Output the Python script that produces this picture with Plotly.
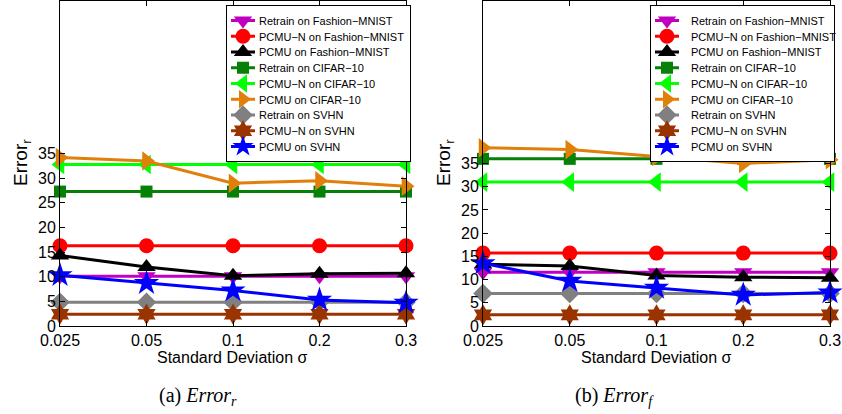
import plotly.graph_objects as go

sigma = ["0.025", "0.05", "0.1", "0.2", "0.3"]
ytick_vals = [0, 5, 10, 15, 20, 25, 30, 35]

names = [
    "Retrain on Fashion\u2212MNIST",
    "PCMU\u2212N on Fashion\u2212MNIST",
    "PCMU on Fashion\u2212MNIST",
    "Retrain on CIFAR\u221210",
    "PCMU\u2212N on CIFAR\u221210",
    "PCMU on CIFAR\u221210",
    "Retrain on SVHN",
    "PCMU\u2212N on SVHN",
    "PCMU on SVHN",
]

# (a) Error_r
err_r_retrain_fm = [10.1, 10.1, 10.1, 10.1, 10.1]
err_r_pcmun_fm = [16.3, 16.3, 16.3, 16.3, 16.3]
err_r_pcmu_fm = [14.3, 12.0, 10.2, 10.6, 10.7]
err_r_retrain_cifar = [27.3, 27.3, 27.3, 27.3, 27.3]
err_r_pcmun_cifar = [32.8, 32.8, 32.8, 32.8, 32.8]
err_r_pcmu_cifar = [34.2, 33.5, 29.0, 29.5, 28.4]
err_r_retrain_svhn = [4.8, 4.8, 4.8, 4.8, 4.8]
err_r_pcmun_svhn = [2.4, 2.4, 2.4, 2.4, 2.4]
err_r_pcmu_svhn = [10.3, 8.7, 7.2, 5.3, 4.7]

# (b) Error_f
err_f_retrain_fm = [11.6, 11.6, 11.6, 11.6, 11.6]
err_f_pcmun_fm = [15.7, 15.7, 15.7, 15.7, 15.7]
err_f_pcmu_fm = [13.3, 12.9, 10.9, 10.5, 10.4]
err_f_retrain_cifar = [36.0, 36.0, 36.0, 36.0, 36.0]
err_f_pcmun_cifar = [31.0, 31.0, 31.0, 31.0, 31.0]
err_f_pcmu_cifar = [38.4, 38.0, 36.5, 35.0, 35.8]
err_f_retrain_svhn = [7.0, 7.0, 7.0, 7.0, 7.0]
err_f_pcmun_svhn = [2.4, 2.4, 2.4, 2.4, 2.4]
err_f_pcmu_svhn = [13.5, 9.7, 8.2, 6.7, 7.2]

series_r = [err_r_retrain_fm, err_r_pcmun_fm, err_r_pcmu_fm, err_r_retrain_cifar,
            err_r_pcmun_cifar, err_r_pcmu_cifar, err_r_retrain_svhn, err_r_pcmun_svhn,
            err_r_pcmu_svhn]
series_f = [err_f_retrain_fm, err_f_pcmun_fm, err_f_pcmu_fm, err_f_retrain_cifar,
            err_f_pcmun_cifar, err_f_pcmu_cifar, err_f_retrain_svhn, err_f_pcmun_svhn,
            err_f_pcmu_svhn]

colors = ["#C000C0", "#FF0000", "#000000", "#078007", "#00FF00", "#E0800A",
          "#808080", "#993300", "#0000FF"]
symbols = ["triangle-down", "circle", "triangle-up", "square", "triangle-left",
           "triangle-right", "diamond", "hexagram", "star"]
sizes = [16, 15, 16, 12, 17, 17, 15, 16, 19]

W, H = 842, 414
fig = go.Figure()

for panel, (series, xa, ya, lg) in enumerate([
        (series_r, "x", "y", "legend"), (series_f, "x2", "y2", "legend2")]):
    for i, vals in enumerate(series):
        fig.add_trace(go.Scatter(
            x=sigma, y=vals, name=names[i], mode="lines+markers",
            line=dict(color=colors[i], width=3),
            marker=dict(symbol=symbols[i], size=sizes[i], color=colors[i],
                        line=dict(width=0)),
            xaxis=xa, yaxis=ya, legend=lg, cliponaxis=False,
        ))

ydom = [1 - 326 / H, 1 - 1 / H]
axis_common = dict(showline=True, linecolor="black", linewidth=1, mirror="allticks",
                   ticks="inside", ticklen=5, tickcolor="black", showgrid=False,
                   zeroline=False, automargin=False,
                   tickfont=dict(family="Liberation Sans, Arial", size=16, color="black"))

legend_common = dict(bgcolor="white", bordercolor="black", borderwidth=1,
                     font=dict(family="Liberation Sans, Arial", size=11, color="black"),
                     xanchor="left", yanchor="top", traceorder="normal",
                     itemsizing="trace")

fig.update_layout(
    width=W, height=H, margin=dict(l=0, r=0, t=0, b=0, pad=0, autoexpand=False),
    paper_bgcolor="white", plot_bgcolor="white", showlegend=True,
    xaxis=dict(domain=[60 / W, 406 / W], anchor="y", type="category",
               range=[0, 4], **axis_common),
    yaxis=dict(domain=ydom, anchor="x", range=[0, 66], tickvals=ytick_vals, **axis_common),
    xaxis2=dict(domain=[483 / W, 830 / W], anchor="y2", type="category",
                range=[0, 4], **axis_common),
    yaxis2=dict(domain=ydom, anchor="x2", range=[0, 70], tickvals=ytick_vals, **axis_common),
    legend=dict(x=226 / W, y=1 - 5 / H, **legend_common),
    legend2=dict(x=650 / W, y=1 - 5 / H, **legend_common),
)

annots = []
for cx, cap_x, cap in [(233, 198, "(a) <i>Error</i><sub><i>r</i></sub>"),
                       (656, 614, "(b) <i>Error</i><sub><i>f</i></sub>")]:
    annots.append(dict(text="Standard Deviation \u03c3", x=cx / W, y=1 - 357 / H,
                       xref="paper", yref="paper", showarrow=False,
                       xanchor="center", yanchor="middle",
                       font=dict(family="Liberation Sans, Arial", size=16, color="black")))
    annots.append(dict(text=cap, x=cap_x / W, y=1 - 396 / H, xref="paper", yref="paper",
                       showarrow=False, xanchor="center", yanchor="middle",
                       font=dict(family="Liberation Serif, Times New Roman", size=20, color="black")))
for yx in [22, 445]:
    annots.append(dict(text="Error<sub>r</sub>", x=yx / W, y=1 - 163 / H, xref="paper",
                       yref="paper", showarrow=False, textangle=-90,
                       xanchor="center", yanchor="middle",
                       font=dict(family="Liberation Sans, Arial", size=19, color="black")))
fig.update_layout(annotations=annots)

# page without body margin; compact legend rows (MATLAB-style spacing)
post = """
(function(){
  document.body.style.margin = '0';
  document.body.style.overflow = 'hidden';
  var ROW = 15.75, SHIFT = 8;
  function fix(){
    var gd = document.getElementById('{plot_id}');
    if(!gd) return;
    var lgs = gd.querySelectorAll('g.infolayer > g');
    lgs.forEach(function(lg){
      var cls = lg.getAttribute('class') || '';
      if(cls.indexOf('legend') !== 0) return;
      var traces = lg.querySelectorAll('g.traces');
      if(!traces.length) return;
      var ys = [];
      traces.forEach(function(t){
        var o = t.getAttribute('data-oy');
        var tr = t.getAttribute('transform') || '';
        var m = tr.match(/translate\\(\\s*([-\\d.e]+)[ ,]+([-\\d.e]+)/);
        if(!m) return;
        if(o === null){
          t.setAttribute('data-oy', m[2]); t.setAttribute('data-ox', m[1]); o = m[2];
          var tx = t.querySelector('text.legendtext');
          if(tx){ tx.setAttribute('x', parseFloat(tx.getAttribute('x') || 40) - SHIFT); }
          t.querySelectorAll('g.legendlines path').forEach(function(p){
            p.setAttribute('d', 'M4,0h24');
          });
          t.querySelectorAll('g.legendpoints path').forEach(function(p){
            p.setAttribute('transform', 'translate(16,0)');
          });
        }
        ys.push([t, parseFloat(t.getAttribute('data-ox')), parseFloat(o)]);
      });
      if(!ys.length) return;
      var y0 = ys[0][2];
      var oldLast = ys[ys.length-1][2];
      ys.forEach(function(a, i){
        a[0].setAttribute('transform', 'translate(' + a[1] + ',' + (y0 + i*ROW) + ')');
      });
      var newLast = y0 + (ys.length-1)*ROW;
      var bg = lg.querySelector('rect.bg');
      if(bg){
        var oh = bg.getAttribute('data-oh');
        if(oh === null){
          oh = bg.getAttribute('height'); bg.setAttribute('data-oh', oh);
          bg.setAttribute('data-ow', bg.getAttribute('width'));
        }
        bg.setAttribute('height', parseFloat(oh) - (oldLast - newLast));
        bg.setAttribute('width', parseFloat(bg.getAttribute('data-ow')) - SHIFT);
      }
      var sb = lg.querySelector('g.scrollbox');
      if(sb) sb.removeAttribute('clip-path');
    });
  }
  fix();
  setTimeout(fix, 50);
  setTimeout(fix, 300);
  var gd = document.getElementById('{plot_id}');
  if(gd && gd.on) gd.on('plotly_afterplot', function(){ setTimeout(fix, 0); });
})();
"""

fig.write_html("out.html", post_script=post, config={"displayModeBar": False})
